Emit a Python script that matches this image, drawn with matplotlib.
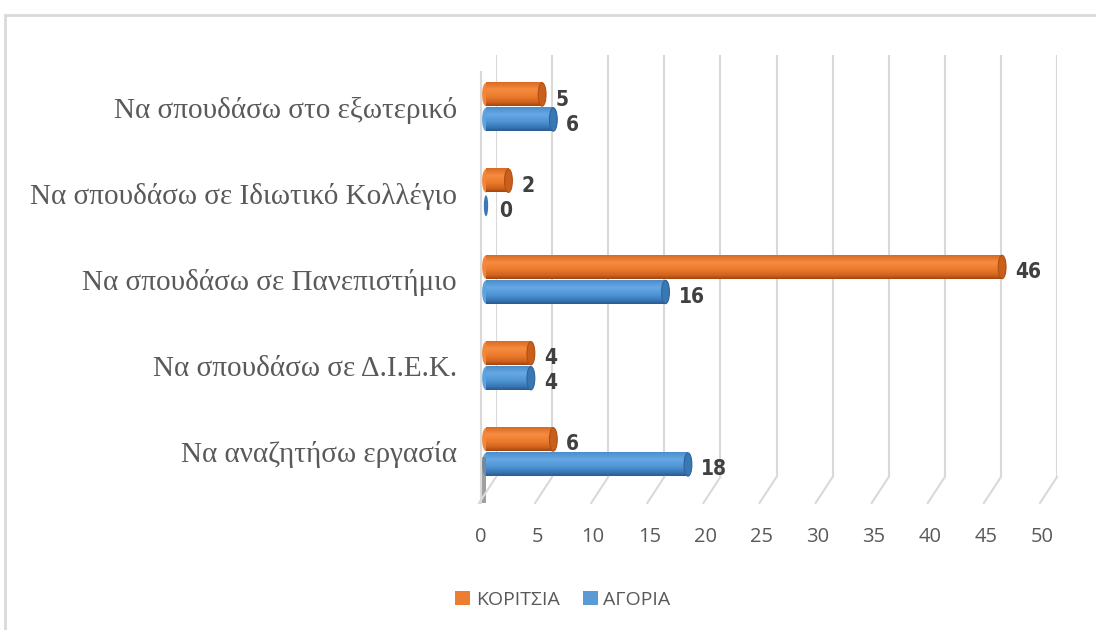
import numpy as np
import matplotlib
matplotlib.use('Agg')
import matplotlib.pyplot as plt
from matplotlib.patches import Ellipse, Rectangle, Patch
from matplotlib.colors import LinearSegmentedColormap
from matplotlib.lines import Line2D
from matplotlib.transforms import offset_copy, ScaledTranslation

# data
categories = ['Να αναζητήσω εργασία', 'Να σπουδάσω σε Δ.Ι.Ε.Κ.',
              'Να σπουδάσω σε Πανεπιστήμιο', 'Να σπουδάσω σε Ιδιωτικό Κολλέγιο',
              'Να σπουδάσω στο εξωτερικό']
girls = [6, 4, 46, 2, 5]      # ΚΟΡΙΤΣΙΑ
boys = [18, 4, 16, 0, 6]      # ΑΓΟΡΙΑ
series_names = ['ΚΟΡΙΤΣΙΑ', 'ΑΓΟΡΙΑ']
xticks = list(range(0, 55, 5))

W, H = 1096, 630
fig = plt.figure(figsize=(W / 100, H / 100), dpi=100)
ax = fig.add_axes([496 / W, 1 - 477 / H, 561 / W, (477 - 55) / H])

orange = '#ED7D31'
blue = '#5B9BD5'
cmap_or = LinearSegmentedColormap.from_list('or', [(0, '#DA6A22'), (0.3, '#F68C40'), (0.6, '#EC7B2D'),
                                                   (0.85, '#D0621C'), (1, '#A24710')])
cmap_bl = LinearSegmentedColormap.from_list('bl', [(0, '#4C8DCC'), (0.3, '#66A8E5'), (0.6, '#5095D5'),
                                                   (0.85, '#3877B6'), (1, '#2A5B90')])

bar_tr = offset_copy(ax.transData, fig=fig, x=-10, y=0, units='dots')
lab_tr = offset_copy(ax.transData, fig=fig, x=3, y=-5, units='dots')

h = 0.27
off = 0.145
cap_w = 0.7
grad = np.linspace(0, 1, 64).reshape(-1, 1)


def cylinder(y, v, cmap, base, cap):
    ax.barh(y, v, height=h, color=base, transform=bar_tr, zorder=3, clip_on=False)
    if v > 0:
        im = ax.imshow(grad, extent=(0, v, y - h / 2, y + h / 2), cmap=cmap, aspect='auto',
                       transform=bar_tr, zorder=3.5, interpolation='bilinear')
        im.set_clip_on(False)
        ax.add_patch(Ellipse((0, y), cap_w, h, facecolor=cmap(0.4), edgecolor='none',
                             transform=bar_tr, zorder=3.4, clip_on=False))
        ax.add_patch(Ellipse((v, y), cap_w, h, facecolor=cap, edgecolor=cmap(0.95), lw=0.8,
                             transform=bar_tr, zorder=4, clip_on=False))
    else:
        ax.add_patch(Ellipse((v, y), cap_w * 0.55, h * 0.9, facecolor=cap, edgecolor='none',
                             transform=bar_tr, zorder=4, clip_on=False))
    ax.text(v, y, str(v), transform=lab_tr, ha='left', va='center', fontsize=15,
            fontweight='bold', fontstretch='condensed', family='DejaVu Sans', color='#404040')


for i in range(len(categories)):
    cylinder(i + off, girls[i], cmap_or, orange, '#C8601C')
    cylinder(i - off, boys[i], cmap_bl, blue, '#3A78B4')

ax.set_xlim(0, 50)
ax.set_ylim(-0.29, 4.603)
ax.set_xticks(xticks)
ax.set_xticklabels([str(t) for t in xticks], fontsize=14.5, color='#595959', family='Open Sans')
ax.set_yticks(range(len(categories)))
ax.set_yticklabels(categories, fontsize=21, color='#595959', family='Liberation Serif')
ax.tick_params(axis='x', length=0, pad=36)
ax.tick_params(axis='y', length=0, pad=28)
shift = ScaledTranslation(-15 / 100, 0, fig.dpi_scale_trans)
for lab in ax.get_xticklabels():
    lab.set_transform(lab.get_transform() + shift)
ax.grid(axis='x', color='#D9D9D9', lw=1.5, zorder=0)
for s in ax.spines.values():
    s.set_visible(False)
ax.patch.set_alpha(0)

# floor lines of the 3D grid
xa = ax.get_xaxis_transform()
for t in xticks:
    px, py = xa.transform((t, 0))
    fig.add_artist(Line2D([px / W, (px - 17) / W], [py / H, (py - 26) / H],
                          color='#D9D9D9', lw=1.5))
px0, py0 = xa.transform((0, 0))
pxt, pyt = ax.transAxes.transform((0, 1))
fig.add_artist(Line2D([(px0 - 15) / W] * 2, [(py0 - 26) / H, (pyt - 17) / H], color='#D9D9D9', lw=1.5))
fig.add_artist(Rectangle(((px0 - 15) / W, (py0 - 26) / H), 5 / W, 46 / H, facecolor='#7F7F7F',
                         edgecolor='none', alpha=0.75))

# outer frame
fig.add_artist(Rectangle((5 / W, -0.1), 1.2, 1 - 15 / H + 0.1, fill=False, edgecolor='#D9D9D9', lw=2))

handles = [Patch(facecolor=orange, edgecolor='none'), Patch(facecolor=blue, edgecolor='none')]
fig.legend(handles, series_names, loc='center', bbox_to_anchor=(563 / W, 1 - 600 / H), ncol=2,
           frameon=False, handlelength=0.75, handleheight=0.75, handletextpad=0.3, columnspacing=1.2,
           prop={'family': 'Open Sans', 'size': 14}, labelcolor='#595959')

fig.savefig('out.png', dpi=100)
